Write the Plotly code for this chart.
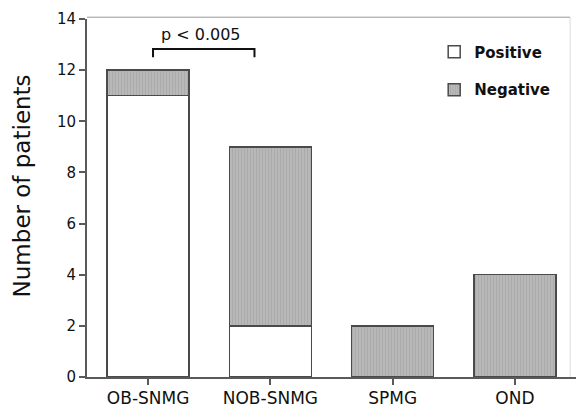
import plotly.graph_objects as go

categories = ["OB-SNMG", "NOB-SNMG", "SPMG", "OND"]
positive = [11, 2, 0, 0]
negative = [1, 7, 2, 4]
y_ticks = [0, 2, 4, 6, 8, 10, 12, 14]
p_label = "p < 0.005"
y_title = "Number of patients"

FONT = "DejaVu Sans"
EDGE = "#4a4a4a"
fig = go.Figure()
fig.add_trace(go.Bar(
    x=categories, y=positive, name="Positive", legend="legend", showlegend=True,
    marker=dict(color="white", line=dict(color=EDGE, width=1.5)),
    width=0.67,
))
fig.add_trace(go.Bar(
    x=categories, y=negative, name="Negative", legend="legend2", showlegend=True,
    marker=dict(color="#b4b4b4", line=dict(color=EDGE, width=1.5),
                pattern=dict(shape="|", fgcolor="#9e9e9e", bgcolor="#b8b8b8", size=3, solidity=0.35)),
    width=0.67,
))

# significance bracket
fig.add_shape(type="path", xref="x", yref="y",
              path="M 0.04 12.5 L 0.04 12.83 L 0.87 12.83 L 0.87 12.5",
              line=dict(color="#111", width=2))
fig.add_annotation(x=0.43, y=13.4, xref="x", yref="y", text=p_label, showarrow=False,
                   font=dict(family=FONT, size=16, color="#111"))

# y-axis title
fig.add_annotation(x=-0.131, y=0.535, xref="paper", yref="paper", text=y_title, showarrow=False,
                   textangle=-90, xanchor="center", yanchor="middle",
                   font=dict(family=FONT, size=23, color="#111"))

legend_font = dict(family=FONT, size=15, color="#111", weight="bold")
fig.update_layout(
    barmode="stack",
    width=576, height=409,
    margin=dict(l=87, r=0, t=19, b=32, autoexpand=False),
    paper_bgcolor="white", plot_bgcolor="white",
    font=dict(family=FONT, color="#111"),
    showlegend=True,
    legend=dict(x=0.71, y=0.908, xanchor="left", yanchor="middle",
                font=legend_font, bgcolor="rgba(0,0,0,0)"),
    legend2=dict(x=0.71, y=0.802, xanchor="left", yanchor="middle",
                 font=legend_font, bgcolor="rgba(0,0,0,0)"),
    xaxis=dict(range=[-0.5, 3.5], showline=True, linecolor="#5a5a5a", linewidth=2,
               ticks="outside", ticklen=6, tickcolor="#5a5a5a", tickwidth=1.5,
               tickfont=dict(family=FONT, size=17, color="#111"), ticklabelstandoff=-1,
               showgrid=False, automargin=False),
    yaxis=dict(range=[0, 14], tickvals=y_ticks, showline=True, linecolor="#5a5a5a", linewidth=2,
               ticks="outside", ticklen=6, tickcolor="#5a5a5a", tickwidth=1.5,
               tickfont=dict(family=FONT, size=15, color="#111"),
               showgrid=False, zeroline=False, automargin=False),
)
# faint frame on top and right
fig.add_shape(type="path", xref="paper", yref="paper",
              path="M 0 1.005 L 0.988 1.005", line=dict(color="#999999", width=1))
fig.add_shape(type="path", xref="paper", yref="paper",
              path="M 0.988 1.005 L 0.988 0", line=dict(color="#dddddd", width=1))

fig.write_html("out.html", config={"displayModeBar": False},
               post_script="document.body.style.margin='0';document.body.style.overflow='hidden';")
